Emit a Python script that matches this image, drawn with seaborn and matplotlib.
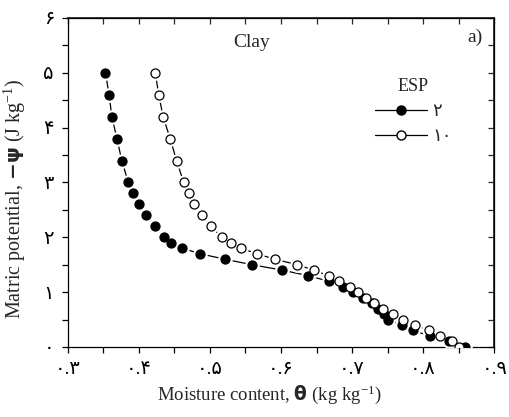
import pandas as pd
import matplotlib
matplotlib.use('Agg')
import matplotlib.pyplot as plt
from matplotlib.lines import Line2D
from matplotlib.ticker import MultipleLocator, FixedLocator, FixedFormatter
import seaborn as sns

# matric potential levels (J/kg), shared by both series
psi = [5.0, 4.6, 4.2, 3.8, 3.4, 3.0, 2.8, 2.6, 2.4, 2.2, 2.0,
       1.9, 1.8, 1.7, 1.6, 1.5, 1.4, 1.3, 1.2, 1.1, 1.0,
       0.9, 0.8, 0.7, 0.6, 0.5, 0.4, 0.3, 0.2, 0.1, 0.0]
theta_esp2 = [0.353, 0.358, 0.362, 0.369, 0.376, 0.385, 0.392, 0.400, 0.410, 0.422, 0.435,
              0.445, 0.461, 0.486, 0.521, 0.559, 0.602, 0.638, 0.667, 0.687, 0.702,
              0.716, 0.728, 0.737, 0.745, 0.751, 0.770, 0.786, 0.810, 0.837, 0.859]
theta_esp10 = [0.423, 0.428, 0.434, 0.444, 0.453, 0.463, 0.470, 0.478, 0.489, 0.501, 0.517,
               0.529, 0.544, 0.566, 0.591, 0.623, 0.646, 0.667, 0.682, 0.697, 0.709,
               0.720, 0.731, 0.744, 0.758, 0.772, 0.789, 0.808, 0.824, 0.840, 0.851]

x_ticks = [0.3, 0.4, 0.5, 0.6, 0.7, 0.8, 0.9]
x_labels = ['۰.۳', '۰.۴', '۰.۵', '۰.۶', '۰.۷', '۰.۸', '۰.۹']
y_ticks = [0, 1, 2, 3, 4, 5, 6]
y_labels = ['۰', '۱', '۲', '۳', '۴', '۵', '۶']
legend_labels = ['۲', '۱۰']

sns.set_theme(style='ticks')
plt.rcParams['font.family'] = ['Liberation Serif', 'DejaVu Sans']
plt.rcParams['mathtext.fontset'] = 'custom'
plt.rcParams['mathtext.rm'] = 'Liberation Serif'
plt.rcParams['mathtext.bf'] = 'DejaVu Sans:bold'
plt.rcParams['mathtext.it'] = 'Liberation Serif:italic'

df2 = pd.DataFrame({'theta': theta_esp2, 'psi': psi})
df10 = pd.DataFrame({'theta': theta_esp10, 'psi': psi})

fig, ax = plt.subplots(figsize=(5.1, 4.17), dpi=100)
fig.subplots_adjust(left=0.133, right=0.969, bottom=0.168, top=0.957)

ms = 6.5
for df, face in [(df2, 'black'), (df10, 'white')]:
    sns.lineplot(data=df, x='theta', y='psi', sort=False, color='black',
                 linewidth=0.9, ax=ax, zorder=2)
    # white halo so the line stops short of each marker
    ax.plot(df['theta'], df['psi'], linestyle='none', marker='o',
            markersize=ms + 3, markerfacecolor='white', markeredgecolor='white', zorder=3)
    ax.plot(df['theta'], df['psi'], linestyle='none', marker='o',
            markersize=ms, markerfacecolor=face, markeredgecolor='black',
            markeredgewidth=0.9, zorder=4)

ax.set_xlim(0.3, 0.9)
ax.set_ylim(0, 6)
ax.xaxis.set_major_locator(FixedLocator(x_ticks))
ax.xaxis.set_major_formatter(FixedFormatter(x_labels))
ax.yaxis.set_major_locator(FixedLocator(y_ticks))
ax.yaxis.set_major_formatter(FixedFormatter(y_labels))
ax.xaxis.set_minor_locator(MultipleLocator(0.05))
ax.yaxis.set_minor_locator(MultipleLocator(0.5))
ax.tick_params(which='both', direction='out', length=4, width=0.9, labelsize=14,
               color='black', labelcolor='black')
ax.tick_params(axis='x', pad=6)
ax.tick_params(axis='y', pad=6)
for s in ax.spines.values():
    s.set_linewidth(0.9)
    s.set_color('black')

# top and right ticks point inwards
secx = ax.secondary_xaxis('top')
secx.xaxis.set_major_locator(FixedLocator(x_ticks))
secx.xaxis.set_minor_locator(MultipleLocator(0.05))
secx.tick_params(which='both', direction='in', length=4, width=0.9, labeltop=False)
secy = ax.secondary_yaxis('right')
secy.yaxis.set_major_locator(FixedLocator(y_ticks))
secy.yaxis.set_minor_locator(MultipleLocator(0.5))
secy.tick_params(which='both', direction='in', length=4, width=0.9, labelright=False)

ax.set_xlabel(r'Moisture content, $\mathbf{\theta}$ (kg kg$^{-1}$)', fontsize=13.5)
ax.xaxis.set_label_coords(0.474, -0.112)
ax.set_ylabel(r'Matric potential, $\mathbf{-\psi}$ (J kg$^{-1}$)', fontsize=14.5)
ax.yaxis.set_label_coords(-0.094, 0.45)

ax.text(0.43, 0.924, 'Clay', transform=ax.transAxes, fontsize=14, ha='center', va='center')
ax.text(0.972, 0.94, 'a)', transform=ax.transAxes, fontsize=14, ha='right', va='center')

handles = [
    Line2D([], [], color='black', lw=0.9, marker='o', markersize=ms,
           markerfacecolor='black', markeredgecolor='black'),
    Line2D([], [], color='black', lw=0.9, marker='o', markersize=ms,
           markerfacecolor='white', markeredgecolor='black'),
]
ax.legend(handles, legend_labels, title='ESP', frameon=False, fontsize=13,
          title_fontsize=13, loc='upper center', bbox_to_anchor=(0.81, 0.845),
          handlelength=2.9, handletextpad=0.3, labelspacing=0.45, borderpad=0)

fig.savefig('out.png', dpi=100)
